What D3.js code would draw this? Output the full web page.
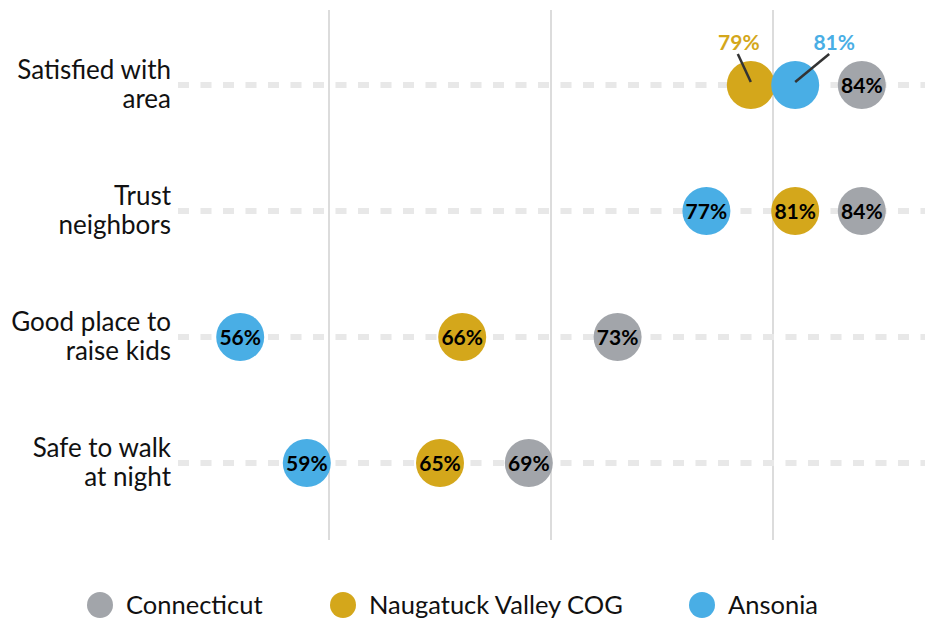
<!DOCTYPE html>
<meta charset="utf-8">
<script src="https://d3js.org/d3.v7.min.js"></script>
<style>
  body { margin: 0; background: #fff; }
  text { font-family: "Source Sans Pro", Lato, "Open Sans", sans-serif; }
</style>
<body>
</body>
<script>
  // data
  var categories = ["Satisfied with area", "Trust neighbors", "Good place to raise kids", "Safe to walk at night"];
  var catLines = [["Satisfied with", "area"], ["Trust", "neighbors"], ["Good place to", "raise kids"], ["Safe to walk", "at night"]];
  var seriesNames = ["Connecticut", "Naugatuck Valley COG", "Ansonia"];
  var connecticut = [84, 84, 73, 69];
  var naugatuck = [79, 81, 66, 65];
  var ansonia = [81, 77, 56, 59];
  var gridTicks = [60, 70, 80];

  var colors = ["#a2a5aa", "#d4a71b", "#49aee5"];
  var values = [connecticut, naugatuck, ansonia];

  // labels that would collide get pulled out above the dot
  var callouts = {
    "Naugatuck Valley COG|Satisfied with area": { dx: -13, dy: -31, tx: -12 },
    "Ansonia|Satisfied with area": { dx: 34, dy: -31, tx: 39 }
  };
  let key = d => d.series + "|" + d.cat;

  let width = 935, height = 622;
  let r = 24;

  let svg = d3.select("body").append("svg")
    .attr("width", width)
    .attr("height", height);

  let x = d3.scaleLinear().domain([60, 80]).range([329, 773]);
  let y = d3.scalePoint().domain(categories).range([85, 463]);

  // vertical grid
  svg.append("g").selectAll("line")
    .data(gridTicks).enter().append("line")
    .attr("x1", d => x(d)).attr("x2", d => x(d))
    .attr("y1", 10).attr("y2", 540)
    .attr("stroke", "#dcdcdc")
    .attr("stroke-width", 2);

  // dashed row lines
  svg.append("g").selectAll("line")
    .data(categories).enter().append("line")
    .attr("x1", 178).attr("x2", 925)
    .attr("y1", d => y(d)).attr("y2", d => y(d))
    .attr("stroke", "#e8e8e8")
    .attr("stroke-width", 6)
    .attr("stroke-dasharray", "11,11.5");

  // category labels
  let catLabel = svg.append("g").selectAll("text")
    .data(categories).enter().append("text")
    .attr("text-anchor", "end")
    .attr("font-size", 26)
    .attr("fill", "#111");
  catLabel.each(function(d, i) {
    let t = d3.select(this);
    catLines[i].forEach((line, j) => {
      t.append("tspan")
        .attr("x", 171)
        .attr("y", y(d) + (j === 0 ? -6 : 23))
        .text(line);
    });
  });

  let points = [];
  seriesNames.forEach((s, si) => {
    categories.forEach((c, ci) => {
      points.push({ series: s, cat: c, value: values[si][ci], color: colors[si] });
    });
  });

  let dots = svg.append("g").selectAll("g")
    .data(points).enter().append("g")
    .attr("transform", d => `translate(${x(d.value)},${y(d.cat)})`);

  dots.append("circle")
    .attr("r", r)
    .attr("fill", d => d.color);

  dots.filter(d => !callouts[key(d)]).append("text")
    .attr("text-anchor", "middle")
    .attr("dy", 7.5)
    .attr("font-size", 21)
    .attr("font-weight", 700)
    .attr("fill", "#000")
    .text(d => d.value + "%");

  let outs = dots.filter(d => callouts[key(d)]);
  outs.append("line")
    .attr("x1", 0).attr("y1", -3)
    .attr("x2", d => callouts[key(d)].dx)
    .attr("y2", d => callouts[key(d)].dy)
    .attr("stroke", "#333")
    .attr("stroke-width", 2.5);
  outs.append("text")
    .attr("text-anchor", "middle")
    .attr("x", d => callouts[key(d)].tx)
    .attr("y", -35)
    .attr("font-size", 21)
    .attr("font-weight", 700)
    .attr("fill", d => d.color)
    .text(d => d.value + "%");

  // legend
  let legendX = [100, 343, 702];
  let legend = svg.append("g").selectAll("g")
    .data(seriesNames).enter().append("g")
    .attr("transform", (d, i) => `translate(${legendX[i]},605)`);
  legend.append("circle")
    .attr("r", 13)
    .attr("fill", (d, i) => colors[i]);
  legend.append("text")
    .attr("x", 26)
    .attr("dy", 8.5)
    .attr("font-size", 25.5)
    .attr("fill", "#111")
    .text(d => d);
</script>
